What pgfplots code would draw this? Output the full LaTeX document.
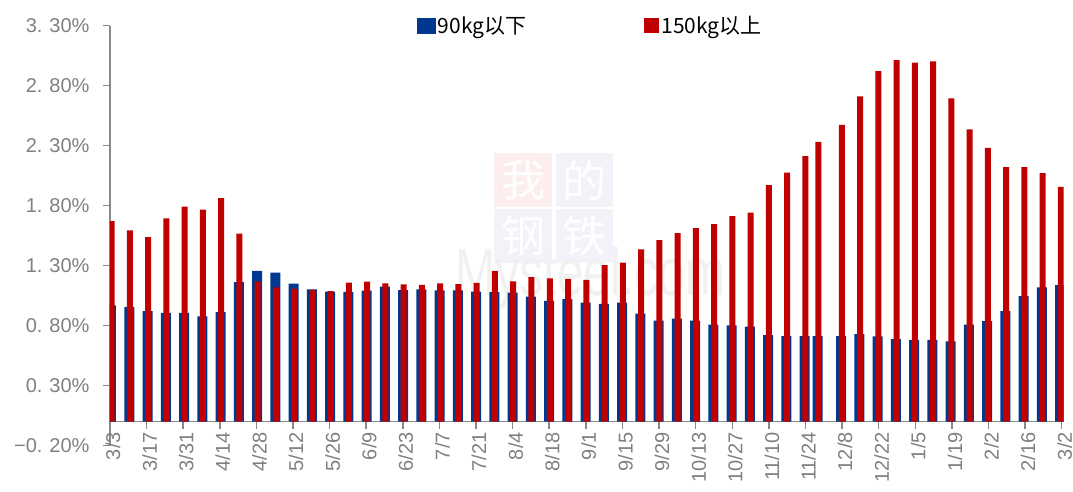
\documentclass[border=0pt]{standalone}
\usepackage{pgfplots}
\pgfplotsset{compat=1.18}
\usepackage{pgfplotstable}
\usetikzlibrary{backgrounds}
\usepackage{fontspec}
\setmainfont{Liberation Sans}
\newfontfamily\cjk{Noto Sans CJK SC}
\definecolor{myblue}{RGB}{0,56,143}
\definecolor{myred}{RGB}{192,0,0}
\definecolor{axgray}{RGB}{137,137,137}
\definecolor{lblgray}{RGB}{128,128,128}
\definecolor{wmred}{RGB}{252,238,238}
\definecolor{wmblue}{RGB}{241,243,249}
\definecolor{wmgray}{RGB}{241,241,241}

\pgfplotstableread{
x blue red
0 0.970 1.672
1 0.956 1.595
2 0.922 1.539
3 0.906 1.695
4 0.906 1.792
5 0.878 1.767
6 0.914 1.864
7 1.164 1.567
8 1.256 1.167
9 1.242 1.120
10 1.150 1.110
11 1.103 1.098
12 1.083 1.089
13 1.081 1.158
14 1.092 1.167
15 1.125 1.153
16 1.097 1.145
17 1.103 1.140
18 1.095 1.153
19 1.095 1.147
20 1.085 1.157
21 1.080 1.256
22 1.075 1.170
23 1.042 1.204
24 1.007 1.194
25 1.022 1.190
26 0.992 1.182
27 0.981 1.305
28 0.992 1.325
29 0.900 1.436
30 0.842 1.514
31 0.858 1.572
32 0.842 1.614
33 0.810 1.646
34 0.803 1.714
35 0.792 1.743
36 0.722 1.972
37 0.714 2.075
38 0.714 2.214
38.72 0.714 2.332
40 0.714 2.473
41 0.730 2.711
42 0.711 2.922
43 0.689 3.014
44 0.681 2.992
45 0.681 3.003
46 0.670 2.695
47 0.808 2.436
48 0.839 2.281
49 0.922 2.122
50 1.047 2.122
51 1.120 2.072
52 1.139 1.956
}\data

\begin{document}
\begin{tikzpicture}[x=1pt,y=1pt]
\begin{axis}[
  scale only axis, width=953.5pt, height=420pt,
  xmin=0, xmax=52.1, ymin=-0.2, ymax=3.3,
  axis x line=middle, axis y line=left,
  hide obscured x ticks=false, hide obscured y ticks=false,
  axis line style={-, draw=axgray, line width=1.5pt},
  tick style={draw=axgray, line width=1.5pt},
  major tick length=7pt, tick align=outside,
  xtick={0,2,...,52},
  xticklabels={3/3,3/17,3/31,4/14,4/28,5/12,5/26,6/9,6/23,7/7,7/21,8/4,8/18,9/1,9/15,9/29,10/13,10/27,11/10,11/24,12/8,12/22,1/5,1/19,2/2,2/16,3/2},
  xticklabel style={rotate=90, anchor=east, text=lblgray, font=\fontsize{20}{24}\selectfont, yshift=-3pt},
  ytick={-0.2,0.3,0.8,1.3,1.8,2.3,2.8,3.3},
  yticklabels={−0.\hspace{0.35em}20\%,0.\hspace{0.35em}30\%,0.\hspace{0.35em}80\%,1.\hspace{0.35em}30\%,1.\hspace{0.35em}80\%,2.\hspace{0.35em}30\%,2.\hspace{0.35em}80\%,3.\hspace{0.35em}30\%},
  yticklabel style={text=lblgray, font=\fontsize{20}{24}\selectfont, xshift=-10pt},
  legend columns=2,
  legend style={draw=none, fill=none, at={(0.3185,1.0)}, anchor=west,
    font=\cjk\fontsize{21}{24}\selectfont,
    /tikz/every even column/.append style={column sep=116pt}},
  legend cell align=left,
]
\addplot[ybar, bar width=10pt, bar shift=1pt, fill=myblue, draw=none,
  legend image code/.code={\fill[myblue] (0pt,-8pt) rectangle (19pt,8pt);}]
  table[x expr=\thisrow{x}*0.9973, y=blue]{\data};
\addlegendentry{90kg以下}
\addplot[ybar, bar width=6pt, bar shift=1.7pt, fill=myred, draw=none,
  legend image code/.code={\fill[myred] (0pt,-7.5pt) rectangle (15pt,7.5pt);}]
  table[x expr=\thisrow{x}*0.9973, y=red]{\data};
\addlegendentry{150kg以上}
\coordinate (O) at (axis cs:0,-0.2);
\end{axis}
\begin{scope}[on background layer, shift={(O)}]
% watermark, coordinates relative to the lower-left corner of the axis
\fill[wmred] (384,238.7) rectangle (442,292.7);
\fill[wmblue] (445.7,238.7) rectangle (503.3,292.7);
\fill[wmblue] (384,182.7) rectangle (442,236.7);
\fill[wmblue] (445.7,182.7) rectangle (503.3,236.7);
\node[text=white, font=\cjk\fontsize{44}{46}\selectfont] at (413,265.7) {我};
\node[text=white, font=\cjk\fontsize{44}{46}\selectfont] at (474.5,265.7) {的};
\node[text=white, font=\cjk\fontsize{44}{46}\selectfont] at (413,209.7) {钢};
\node[text=white, font=\cjk\fontsize{44}{46}\selectfont] at (474.5,209.7) {铁};
\node[text=wmgray, font=\fontsize{67}{70}\selectfont, anchor=base west, inner sep=0pt] at (345,150.7) {\scalebox{0.72}[1]{Mysteel.com}};
\end{scope}
\pgfresetboundingbox
\useasboundingbox ([shift={(-110,-45.3)}]O) rectangle ++(1073,491);
\end{tikzpicture}
\end{document}
